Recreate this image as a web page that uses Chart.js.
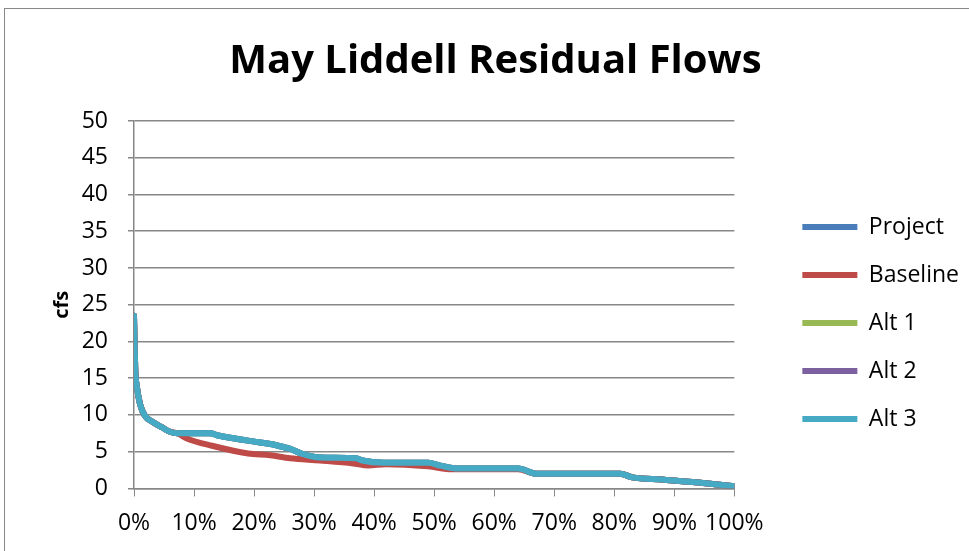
<!DOCTYPE html>
<html>
<head>
<meta charset="utf-8">
<script src="https://cdn.jsdelivr.net/npm/chart.js@4/dist/chart.umd.min.js"></script>
<style>
  body { margin: 0; background: #fff; }
  #wrap { position: relative; width: 969px; height: 551px; }
  #frame { position: absolute; left: 4px; top: 8px; width: 1000px; height: 600px; border: 1.5px solid #878787; }
  canvas { position: absolute; left: 0; top: 0; }
</style>
</head>
<body>
<div id="wrap">
  <div id="frame"></div>
  <canvas id="myChart" width="969" height="551"></canvas>
</div>
<script>
// exceedance (fraction of time) and flow in cfs
var alt3X = [0, 0.002, 0.005, 0.01, 0.018, 0.032, 0.047, 0.06, 0.072, 0.127, 0.14, 0.16, 0.19, 0.21, 0.23, 0.25, 0.26, 0.28, 0.31, 0.37, 0.38, 0.415, 0.49, 0.51, 0.54, 0.64, 0.67, 0.81, 0.83, 0.88, 0.94, 1.0];
var alt3Y = [23.5, 16.4, 13.7, 11.5, 9.9, 9.0, 8.3, 7.7, 7.5, 7.5, 7.2, 6.9, 6.5, 6.25, 6.0, 5.6, 5.4, 4.7, 4.2, 4.1, 3.8, 3.5, 3.5, 3.1, 2.7, 2.7, 2.0, 2.0, 1.5, 1.2, 0.8, 0.3];

var baseX = [0, 0.002, 0.005, 0.01, 0.018, 0.032, 0.047, 0.06, 0.072, 0.088, 0.13, 0.19, 0.227, 0.26, 0.31, 0.365, 0.39, 0.42, 0.49, 0.53, 0.54, 0.64, 0.67, 0.81, 0.83, 0.88, 0.94, 1.0];
var baseY = [23.5, 16.4, 13.7, 11.5, 9.9, 9.0, 8.3, 7.7, 7.5, 6.8, 5.8, 4.75, 4.5, 4.1, 3.8, 3.4, 3.1, 3.3, 3.0, 2.6, 2.6, 2.6, 2.0, 2.0, 1.5, 1.2, 0.8, 0.3];

var seriesNames = ['Project', 'Baseline', 'Alt 1', 'Alt 2', 'Alt 3'];
var seriesColors = ['#4a7ebb', '#be4b48', '#98b954', '#7d60a0', '#46aac5'];
var yTicks = [0, 5, 10, 15, 20, 25, 30, 35, 40, 45, 50];

function pts(xs, ys) {
    return xs.map(function (x, i) { return { x: x, y: ys[i] }; });
}

var seriesData = [pts(alt3X, alt3Y), pts(baseX, baseY), pts(alt3X, alt3Y), pts(alt3X, alt3Y), pts(alt3X, alt3Y)];

var font = "'Open Sans', 'Noto Sans', sans-serif";

// the legend may be wider than the layout normally allows for a side box
var wideLegend = {
    id: 'wideLegend',
    afterInit: function (chart) {
        var lg = chart.legend;
        var fit = lg.fit;
        lg.fit = function () {
            this.maxWidth = 300;
            fit.call(this);
        };
    }
};

var ctx = document.getElementById('myChart');
var myChart = new Chart(ctx, {
    type: 'line',
    data: {
        datasets: seriesNames.map(function (n, i) {
            return {
                label: n,
                data: seriesData[i],
                borderColor: seriesColors[i],
                backgroundColor: seriesColors[i],
                borderWidth: 6,
                borderCapStyle: 'round',
                borderJoinStyle: 'round',
                pointRadius: 0,
                pointStyle: 'line',
                cubicInterpolationMode: 'monotone',
                order: n == 'Alt 3' ? 0 : (n == 'Baseline' ? 1 : 2)
            };
        })
    },
    plugins: [wideLegend],
    options: {
        responsive: false,
        animation: false,
        layout: { padding: { left: 22, right: 0, top: 22, bottom: 1 } },
        plugins: {
            title: {
                display: true,
                text: 'May Liddell Residual Flows',
                color: '#000',
                font: { family: font, size: 40, weight: 'bold' },
                padding: { top: 16, bottom: 35 }
            },
            legend: {
                position: 'right',
                title: { display: true, text: ' ', font: { size: 10 }, padding: { top: 0, bottom: 62 } },
                labels: {
                    color: '#000',
                    font: { family: font, size: 23 },
                    usePointStyle: true,
                    pointStyle: 'line',
                    pointStyleWidth: 55,
                    padding: 25,
                    sort: function (a, b) { return a.datasetIndex - b.datasetIndex; }
                }
            },
            tooltip: { enabled: false }
        },
        scales: {
            x: {
                type: 'linear',
                min: 0,
                max: 1,
                ticks: {
                    stepSize: 0.1,
                    autoSkip: false,
                    maxRotation: 0,
                    color: '#000',
                    font: { family: font, size: 23 },
                    padding: 13,
                    callback: function (v) { return Math.round(v * 100) + '%'; }
                },
                grid: { drawOnChartArea: false, color: '#878787', tickLength: 8 },
                border: { color: '#878787', width: 1.5 }
            },
            y: {
                min: 0,
                max: 50,
                afterBuildTicks: function (s) { s.ticks = yTicks.map(function (v) { return { value: v }; }); },
                afterFit: function (s) { s.width = 112; },
                ticks: {
                    color: '#000',
                    font: { family: font, size: 23 },
                    padding: 20
                },
                title: {
                    display: true,
                    text: 'cfs',
                    color: '#000',
                    font: { family: font, size: 20, weight: 'bold' },
                    padding: { top: 28, bottom: 8 }
                },
                grid: { color: '#878787', lineWidth: 1.5, tickLength: 6 },
                border: { color: '#878787', width: 1.5 }
            },
            // empty right axis, only keeps a gap between plot and legend
            gap: {
                position: 'right',
                display: true,
                ticks: { display: false },
                grid: { display: false },
                border: { display: false },
                afterFit: function (s) { s.width = 43; }
            }
        }
    }
});
</script>
</body>
</html>
